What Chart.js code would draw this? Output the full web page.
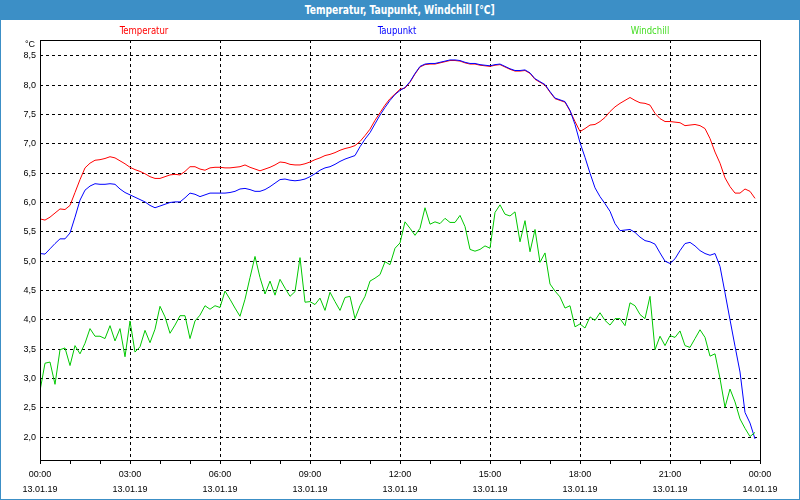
<!DOCTYPE html>
<html>
<head>
<meta charset="utf-8">
<script src="https://cdn.jsdelivr.net/npm/chart.js@4.4.1/dist/chart.umd.min.js"></script>
<style>
  body { margin: 0; background: #fff; }
  #wrap { position: relative; width: 800px; height: 500px; overflow: hidden; background: #fff; }
  #chart { position: absolute; left: 0; top: 0; }
  #frame { position: absolute; left: 0; top: 0; width: 800px; height: 500px; box-sizing: border-box; border: 1px solid #3c8fc6; pointer-events: none; }
  #title { position: absolute; left: 0; top: 0; width: 800px; height: 20px; background: #3c8fc6; color: #fff;
           font: bold 12px "Liberation Sans Narrow", "DejaVu Sans Condensed", sans-serif; text-align: center; line-height: 20px; }
  #title span { display: inline-block; transform: scaleX(0.85); }
  .series { position: absolute; top: 25px; font: 11px "Liberation Sans Narrow", "DejaVu Sans Condensed", sans-serif;
            line-height: 11px; transform: translateX(-50%) scaleX(0.86); white-space: nowrap; }
  #unit { position: absolute; left: 25px; top: 39px; font: 9px "Liberation Sans", sans-serif; line-height: 11px; color: #000; }
</style>
</head>
<body>
<div id="wrap">
  <canvas id="chart" width="800" height="500"></canvas>
  <div id="title"><span>Temperatur, Taupunkt, Windchill [°C]</span></div>
  <div class="series" style="left:144px; color:#ff0000">Temperatur</div>
  <div class="series" style="left:397px; color:#0000ff">Taupunkt</div>
  <div class="series" style="left:650px; color:#44dd22">Windchill</div>
  <div id="unit">°C</div>
  <div id="frame"></div>
</div>
<script>
// 10-minute samples, 13.01.19 00:00 .. 23:50
const stepHours = 1 / 6;

const tempC = [
  5.72, 5.70, 5.75, 5.82, 5.89, 5.88, 5.95, 6.17, 6.39, 6.59,
  6.67, 6.72, 6.73, 6.75, 6.78, 6.76, 6.71, 6.66, 6.60, 6.56,
  6.53, 6.49, 6.44, 6.41, 6.41, 6.44, 6.47, 6.48, 6.47, 6.53,
  6.61, 6.61, 6.57, 6.55, 6.59, 6.60, 6.60, 6.59, 6.59, 6.60,
  6.61, 6.64, 6.60, 6.57, 6.54, 6.57, 6.60, 6.64, 6.69, 6.68,
  6.65, 6.64, 6.64, 6.66, 6.69, 6.73, 6.76, 6.80, 6.82, 6.85,
  6.89, 6.92, 6.94, 6.97, 7.04, 7.14, 7.25, 7.40, 7.53, 7.66,
  7.77, 7.85, 7.93, 7.95, 8.05, 8.19, 8.31, 8.35, 8.36, 8.36,
  8.38, 8.40, 8.42, 8.42, 8.41, 8.38, 8.36, 8.36, 8.34, 8.33,
  8.32, 8.34, 8.35, 8.31, 8.27, 8.24, 8.24, 8.25, 8.20, 8.10,
  8.05, 8.00, 7.88, 7.77, 7.74, 7.71, 7.56, 7.38, 7.21, 7.26,
  7.32, 7.33, 7.38, 7.45, 7.55, 7.63, 7.69, 7.74, 7.79, 7.74,
  7.70, 7.69, 7.66, 7.52, 7.43, 7.38, 7.38, 7.37, 7.36, 7.31,
  7.32, 7.33, 7.31, 7.26, 7.09, 6.86, 6.67, 6.42, 6.27, 6.16,
  6.16, 6.23, 6.19, 6.07
];

const dewC = [
  5.13, 5.12, 5.21, 5.30, 5.38, 5.38, 5.48, 5.75, 6.04, 6.21,
  6.28, 6.32, 6.31, 6.31, 6.32, 6.31, 6.23, 6.17, 6.13, 6.09,
  6.05, 6.01, 5.95, 5.91, 5.94, 5.97, 6.00, 6.01, 6.01, 6.08,
  6.16, 6.14, 6.10, 6.13, 6.16, 6.16, 6.16, 6.16, 6.17, 6.19,
  6.23, 6.24, 6.22, 6.19, 6.19, 6.22, 6.27, 6.33, 6.39, 6.40,
  6.38, 6.37, 6.38, 6.40, 6.44, 6.49, 6.55, 6.59, 6.61, 6.65,
  6.70, 6.74, 6.77, 6.80, 6.95, 7.08, 7.19, 7.34, 7.49, 7.62,
  7.74, 7.84, 7.91, 7.96, 8.06, 8.20, 8.32, 8.36, 8.37, 8.37,
  8.39, 8.41, 8.43, 8.43, 8.42, 8.39, 8.37, 8.37, 8.35, 8.34,
  8.33, 8.35, 8.36, 8.32, 8.28, 8.25, 8.25, 8.26, 8.21, 8.11,
  8.06, 8.01, 7.89, 7.78, 7.75, 7.72, 7.57, 7.33, 7.02, 6.77,
  6.50, 6.25, 6.10, 5.98, 5.85, 5.64, 5.52, 5.53, 5.54, 5.49,
  5.41, 5.35, 5.33, 5.29, 5.14, 5.00, 4.96, 5.04, 5.18, 5.30,
  5.32, 5.26, 5.18, 5.13, 5.10, 5.13, 4.91, 4.46, 4.00, 3.55,
  3.11, 2.42, 2.24, 1.97
];

const windC = [
  2.79, 3.26, 3.28, 2.90, 3.49, 3.52, 3.22, 3.56, 3.42, 3.60,
  3.85, 3.72, 3.72, 3.68, 3.90, 3.64, 3.85, 3.37, 3.98, 3.45,
  3.54, 3.82, 3.61, 3.84, 4.23, 4.05, 3.77, 3.91, 4.07, 4.07,
  3.68, 3.98, 4.08, 4.24, 4.18, 4.24, 4.21, 4.49, 4.35, 4.20,
  4.06, 4.35, 4.72, 5.08, 4.72, 4.44, 4.66, 4.42, 4.69, 4.54,
  4.40, 4.48, 5.06, 4.30, 4.31, 4.26, 4.37, 4.16, 4.47, 4.31,
  4.16, 4.38, 4.40, 4.02, 4.24, 4.40, 4.66, 4.71, 4.77, 4.99,
  4.94, 5.22, 5.31, 5.67, 5.56, 5.44, 5.56, 5.91, 5.63, 5.67,
  5.64, 5.73, 5.66, 5.66, 5.78, 5.59, 5.20, 5.17, 5.20, 5.26,
  5.22, 5.83, 5.96, 5.80, 5.77, 5.84, 5.33, 5.69, 5.16, 5.54,
  4.98, 5.14, 4.61, 4.49, 4.39, 4.20, 4.24, 3.88, 3.93, 3.86,
  4.05, 3.99, 4.12, 3.99, 3.91, 4.02, 4.02, 3.90, 4.29, 4.24,
  4.09, 4.02, 4.40, 3.49, 3.72, 3.56, 3.73, 3.70, 3.81, 3.56,
  3.53, 3.68, 3.83, 3.70, 3.38, 3.42, 3.00, 2.51, 2.82, 2.60,
  2.31, 2.15, 2.01, 2.08
];

const yTicks = [2.0, 2.5, 3.0, 3.5, 4.0, 4.5, 5.0, 5.5, 6.0, 6.5, 7.0, 7.5, 8.0, 8.5];
const hourTicks = [0, 1, 2, 3, 4, 5, 6, 7, 8, 9, 10, 11, 12, 13, 14, 15, 16, 17, 18, 19, 20, 21, 22, 23, 24];
const labelHours = [0, 3, 6, 9, 12, 15, 18, 21, 24];
const timeLabels = ['00:00', '03:00', '06:00', '09:00', '12:00', '15:00', '18:00', '21:00', '00:00'];
const dateLabels = ['13.01.19', '13.01.19', '13.01.19', '13.01.19', '13.01.19', '13.01.19', '13.01.19', '13.01.19', '14.01.19'];

const toPoints = (arr) => arr.map((v, i) => ({ x: i * stepHours, y: v }));

Chart.defaults.font.family = '"Liberation Sans", Arial, sans-serif';
Chart.defaults.font.size = 9;
Chart.defaults.color = '#000';

// black box round the plot area
const plotBox = {
  id: 'plotBox',
  afterDraw(chart) {
    const { ctx, chartArea: a } = chart;
    ctx.save();
    ctx.strokeStyle = '#000';
    ctx.lineWidth = 1;
    ctx.setLineDash([]);
    ctx.strokeRect(a.left + 0.5, a.top + 0.5, a.right - a.left, a.bottom - a.top);
    ctx.restore();
  }
};

new Chart(document.getElementById('chart').getContext('2d'), {
  type: 'line',
  data: {
    datasets: [
      { label: 'Temperatur', data: toPoints(tempC), borderColor: '#ff0000', order: 2 },
      { label: 'Taupunkt', data: toPoints(dewC), borderColor: '#0000ff', order: 1 },
      { label: 'Windchill', data: toPoints(windC), borderColor: '#00c800', order: 0 },
    ].map(ds => ({ ...ds, borderWidth: 1, pointRadius: 0, tension: 0, fill: false })),
  },
  options: {
    responsive: false,
    animation: false,
    devicePixelRatio: 1,
    layout: { padding: { left: 0, right: 40, top: 40, bottom: 0 } },
    plugins: {
      legend: { display: false },
      tooltip: { enabled: false },
    },
    scales: {
      x: {
        type: 'linear',
        min: 0,
        max: 24,
        afterBuildTicks: s => { s.ticks = hourTicks.map(v => ({ value: v })); },
        afterFit: s => { s.height = 40; },
        grid: {
          color: c => (c.tick && c.tick.value % 3 === 0 && c.tick.value > 0 && c.tick.value < 24) ? '#000' : 'rgba(0,0,0,0)',
          tickColor: '#000',
          tickLength: 4,
        },
        border: { display: false, dash: [3, 3] },
        ticks: {
          autoSkip: false,
          maxRotation: 0,
          padding: 3,
          font: { size: 9, lineHeight: 1.65 },
          callback: (value) => {
            const k = labelHours.indexOf(value);
            return k >= 0 ? [timeLabels[k], dateLabels[k]] : '';
          },
        },
      },
      y: {
        type: 'linear',
        min: 1.61,
        max: 8.77,
        afterBuildTicks: s => { s.ticks = yTicks.map(v => ({ value: v })); },
        afterFit: s => { s.width = 40; },
        grid: { color: '#000', drawTicks: false },
        border: { display: false, dash: [3, 3] },
        ticks: {
          padding: 4,
          callback: (value) => value.toFixed(1).replace('.', ','),
        },
      },
    },
  },
  plugins: [plotBox],
});
</script>
</body>
</html>
